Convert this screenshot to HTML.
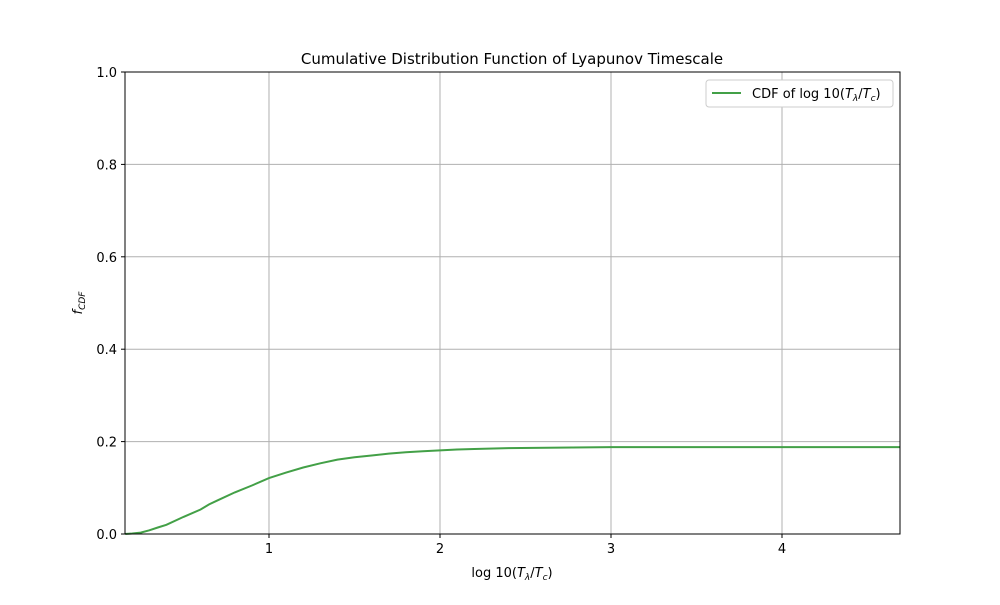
<!DOCTYPE html>
<html><head><meta charset="utf-8"><style>
body{margin:0;background:#fff}
svg text{font-family:"DejaVu Sans","Liberation Sans",sans-serif;fill:#000}
</style></head><body>
<svg id="chart" width="1000" height="600" xmlns="http://www.w3.org/2000/svg">
<rect width="1000" height="600" fill="#fff"/>
<text x="512" y="64" font-size="15" text-anchor="middle">Cumulative Distribution Function of Lyapunov Timescale</text>
<g id="grid"></g>
<g id="ticks"></g>
<path id="curve" fill="none" stroke="#43a047" stroke-width="2"/>
<rect x="125" y="72" width="775" height="462" fill="none" stroke="#000" stroke-width="1"/>
<text x="512" y="577" font-size="13" text-anchor="middle">log 10(<tspan font-style="italic">T</tspan><tspan font-size="9" dy="3" font-style="italic">λ</tspan><tspan dy="-3">/</tspan><tspan font-style="italic">T</tspan><tspan font-size="9" dy="3" font-style="italic">c</tspan><tspan dy="-3">)</tspan></text>
<text transform="translate(82,303) rotate(-90)" font-size="13" text-anchor="middle"><tspan font-style="italic">f</tspan><tspan font-size="9" dy="3" font-style="italic">CDF</tspan></text>
<g>
<rect x="706" y="80" width="187" height="27" rx="3" fill="#fff" stroke="#ccc"/>
<line x1="712" y1="93" x2="741" y2="93" stroke="#43a047" stroke-width="2"/>
<text x="752" y="98" font-size="13">CDF of log 10(<tspan font-style="italic">T</tspan><tspan font-size="9" dy="3" font-style="italic">λ</tspan><tspan dy="-3">/</tspan><tspan font-style="italic">T</tspan><tspan font-size="9" dy="3" font-style="italic">c</tspan><tspan dy="-3">)</tspan></text>
</g>
</svg>
<script>
const xValues=[0.16,0.2,0.25,0.3,0.35,0.4,0.5,0.6,0.65,0.7,0.8,0.9,1.0,1.1,1.2,1.3,1.4,1.5,1.6,1.7,1.8,1.9,2.0,2.1,2.2,2.4,2.7,3.0,3.5,4.0,4.69];
const cdfValues=[0,0.001,0.003,0.008,0.014,0.02,0.037,0.053,0.064,0.073,0.09,0.105,0.121,0.133,0.144,0.153,0.161,0.166,0.17,0.174,0.177,0.179,0.181,0.183,0.184,0.186,0.187,0.188,0.188,0.188,0.188];
const xTicks=[1,2,3,4];
const yTicks=[0,0.2,0.4,0.6,0.8,1.0];
const yTickLabels=["0.0","0.2","0.4","0.6","0.8","1.0"];
const X0=125,X1=900,Y0=534,Y1=72,xmin=0.158,xmax=4.69;
const sx=v=>X0+(v-xmin)/(xmax-xmin)*(X1-X0);
const sy=v=>Y0-v*(Y0-Y1);
const NS="http://www.w3.org/2000/svg";
const grid=document.getElementById('grid'),ticks=document.getElementById('ticks');
function mk(tag,attrs,parent){const e=document.createElementNS(NS,tag);for(const k in attrs)e.setAttribute(k,attrs[k]);parent.appendChild(e);return e;}
xTicks.forEach(t=>{const x=sx(t);
 const g=mk('line',{x1:x,x2:x,y1:Y1,y2:Y0,stroke:'#b0b0b0','stroke-width':1},grid);
 
 
 mk('line',{x1:x,x2:x,y1:Y0,y2:Y0+4,stroke:'#000'},ticks);
 const tx=mk('text',{x:x,y:Y0+19,'font-size':13,'text-anchor':'middle'},ticks);tx.textContent=t;
 
 
});
yTicks.forEach((t,i)=>{const y=sy(t);
 const g=mk('line',{x1:X0,x2:X1,y1:y,y2:y,stroke:'#b0b0b0','stroke-width':1},grid);
 
 
 mk('line',{x1:X0-4,x2:X0,y1:y,y2:y,stroke:'#000'},ticks);
 const tx=mk('text',{x:X0-8,y:y+5,'font-size':13,'text-anchor':'end'},ticks);tx.textContent=yTickLabels[i];
 
 
});
document.getElementById('curve').setAttribute('d',xValues.map((v,i)=>(i?'L':'M')+sx(v).toFixed(1)+','+sy(cdfValues[i]).toFixed(1)).join(''));
</script>
</body></html>
